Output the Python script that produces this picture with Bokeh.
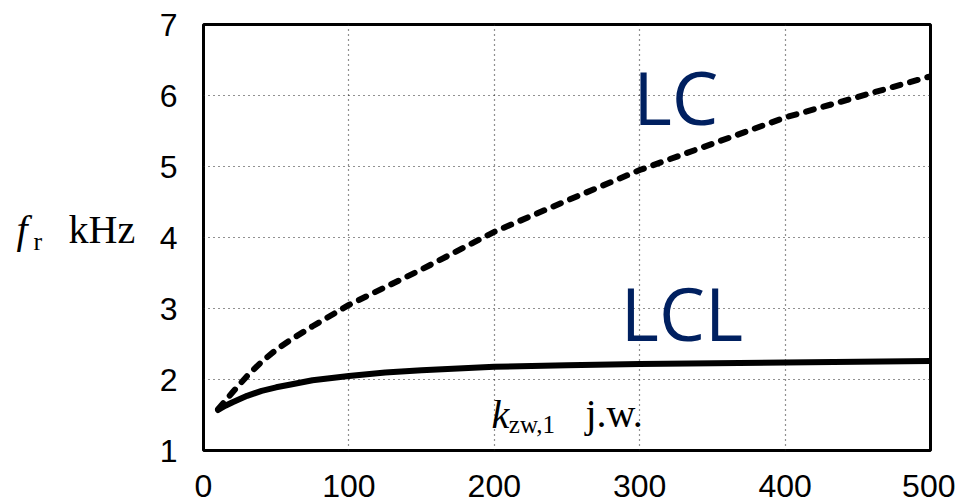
from bokeh.plotting import figure
from bokeh.models import Range1d, FixedTicker, Label
from bokeh.layouts import row
from bokeh.embed import file_html
from bokeh.resources import INLINE

# Data
k_lc = [10, 20, 30, 40, 50, 60, 75, 100, 125, 150, 200, 250, 300, 350, 400, 450, 500]
f_lc = [1.58, 1.82, 2.05, 2.25, 2.42, 2.56, 2.75, 3.05, 3.30, 3.55, 4.08, 4.52, 4.95, 5.32, 5.69, 5.98, 6.27]

k_lcl = [10, 15, 20, 30, 40, 50, 60, 75, 100, 125, 150, 200, 250, 300, 400, 500]
f_lcl = [1.57, 1.63, 1.68, 1.77, 1.84, 1.89, 1.93, 1.99, 2.05, 2.10, 2.13, 2.18, 2.20, 2.22, 2.24, 2.26]

x_ticks = [0, 100, 200, 300, 400, 500]
y_ticks = [1, 2, 3, 4, 5, 6, 7]

H = 504
LW = 150           # width of the left strip holding the y-axis title
PW = 805           # width of the main plot

serif = "Liberation Serif"
navy = "#002060"

# ---- left strip with the y-axis title "f_r kHz"
left = figure(width=LW, height=H, output_backend="svg", toolbar_location=None,
              x_range=Range1d(0, LW), y_range=Range1d(H, 0),
              x_axis_type=None, y_axis_type=None,
              min_border_left=0, min_border_right=0, min_border_top=0, min_border_bottom=0)
left.outline_line_color = None
left.xgrid.visible = False
left.ygrid.visible = False
left.background_fill_color = "white"
left.border_fill_color = "white"
left.add_layout(Label(x=16, y=242, text="f", text_font=serif, text_font_style="italic",
                      text_font_size="40px", text_color="black", text_baseline="alphabetic"))
left.add_layout(Label(x=33, y=257, text="r", text_font=serif,
                      text_font_size="26px", text_color="black", text_baseline="alphabetic"))
left.add_layout(Label(x=68, y=242, text="kHz", text_font=serif,
                      text_font_size="40px", text_color="black", text_baseline="alphabetic"))

# ---- main plot
p = figure(width=PW, height=H, output_backend="svg", toolbar_location=None,
           x_range=Range1d(0, 500), y_range=Range1d(1, 7),
           min_border_left=53, min_border_right=PW - 780,
           min_border_top=24, min_border_bottom=H - 450)
p.background_fill_color = "white"
p.border_fill_color = "white"
p.outline_line_color = "black"
p.outline_line_width = 3
p.outline_line_alpha = 1.0

for ax in (p.xaxis[0], p.yaxis[0]):
    ax.axis_line_color = None
    ax.major_tick_line_color = None
    ax.minor_tick_line_color = None
    ax.major_tick_in = 0
    ax.major_tick_out = 0
    ax.major_label_text_font = "Liberation Sans"
    ax.major_label_text_font_size = "32px"
    ax.major_label_text_color = "black"
p.xaxis.ticker = FixedTicker(ticks=x_ticks)
p.yaxis.ticker = FixedTicker(ticks=y_ticks)
p.xaxis.major_label_standoff = 24
p.yaxis.major_label_standoff = 26

for g in (p.xgrid[0], p.ygrid[0]):
    g.grid_line_color = "#222222"
    g.grid_line_dash = "1 4"
    g.grid_line_width = 1.2

p.line(k_lcl, f_lcl, line_color="black", line_width=6, line_cap="round", line_join="round")
p.line(k_lc, f_lc, line_color="black", line_width=6, line_dash="8 10", line_cap="round")

p.add_layout(Label(x=295.5, y=5.986, text="LC", text_font="Open Sans", text_font_size="74px",
                   text_color=navy, text_baseline="alphabetic"))
p.add_layout(Label(x=287, y=2.944, text="LCL", text_font="Open Sans", text_font_size="73px",
                   text_color=navy, text_baseline="alphabetic"))

# x-axis title inside the plot: k_zw,1 j.w.
p.add_layout(Label(x=198, y=1.51, text="k", text_font=serif, text_font_style="italic",
                   text_font_size="40px", text_color="black", text_baseline="alphabetic"))
p.add_layout(Label(x=210, y=1.366, text="zw,1", text_font=serif,
                   text_font_size="25px", text_color="black", text_baseline="alphabetic"))
p.add_layout(Label(x=262.7, y=1.52, text="j.w.", text_font=serif,
                   text_font_size="40px", text_color="black", text_baseline="alphabetic"))

layout = row(left, p, spacing=0)
open("out.html", "w").write(file_html(layout, INLINE))
